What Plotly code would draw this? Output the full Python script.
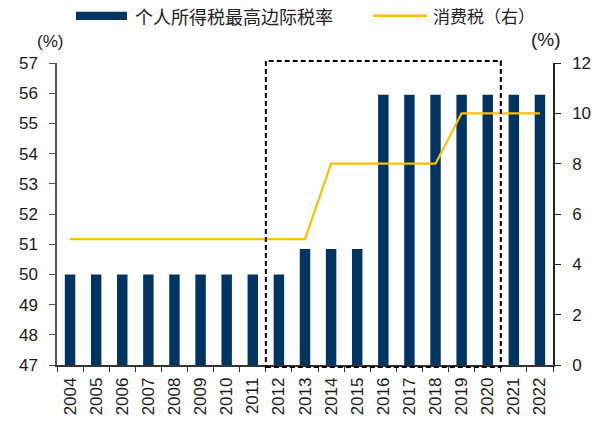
import plotly.graph_objects as go

years = [str(y) for y in range(2004, 2023)]
income_tax = [50, 50, 50, 50, 50, 50, 50, 50, 50, 50.84, 50.84, 50.84, 55.95, 55.95, 55.95, 55.95, 55.95, 55.95, 55.95]
consumption_tax = [5, 5, 5, 5, 5, 5, 5, 5, 5, 5, 8, 8, 8, 8, 8, 10, 10, 10, 10]
left_ticks = list(range(47, 58))
right_ticks = list(range(0, 13, 2))

BAR = "#003462"
LINE = "#FFC000"
FONT = "Liberation Sans, Arial, sans-serif"
CJK = "Noto Sans CJK SC, sans-serif"

W, H = 599, 423
PL, PR, PT, PB = 57, 553, 63, 365  # plot area in pixels


def px(X):
    return (X - PL) / (PR - PL)


def py(Y):
    return (PB - Y) / (PB - PT)


fig = go.Figure()
fig.add_trace(go.Bar(x=years, y=income_tax, name="个人所得税最高边际税率",
                     marker=dict(color=BAR, line=dict(width=0)), width=0.4,
                     showlegend=False))
fig.add_trace(go.Scatter(x=years, y=consumption_tax, name="消费税（右）", yaxis="y2",
                         mode="lines", line=dict(color=LINE, width=2.2), showlegend=False))

fig.update_layout(
    width=W, height=H,
    margin=dict(l=PL, r=W - PR, t=PT, b=H - PB, autoexpand=False),
    plot_bgcolor="white", paper_bgcolor="white",
    font=dict(family=FONT, size=17, color="#1a1a1a"),
    xaxis=dict(type="category", tickangle=-90, tickson="boundaries",
               ticks="outside", ticklen=5, tickcolor="#333", showline=True,
               linecolor="#333", linewidth=1.5, showgrid=False,
               ticklabelstandoff=4, tickfont=dict(size=17), range=[-0.5, 18.5]),
    yaxis=dict(range=[47, 57], tickvals=left_ticks, ticks="outside", ticklen=6,
               tickcolor="#555", showline=True, linecolor="#555", linewidth=1.5,
               showgrid=False, zeroline=False, ticklabelstandoff=8, tickfont=dict(size=17)),
    yaxis2=dict(range=[0, 12], tickvals=right_ticks, overlaying="y", side="right",
                ticks="outside", ticklen=6, tickcolor="#222", showline=True,
                linecolor="#222", linewidth=1.5, showgrid=False, zeroline=False,
                ticklabelstandoff=8, tickfont=dict(size=17)),
)

# dashed highlight box (2012-2020)
fig.add_shape(type="rect", xref="x", yref="paper", x0=7.5, x1=16.5, y0=py(367), y1=py(61),
              line=dict(color="black", width=2, dash="5px,3px"), layer="above")

# axis unit labels
fig.add_annotation(text="(%)", xref="paper", yref="paper", x=px(50), y=py(42),
                   showarrow=False, font=dict(size=17), xanchor="center", yanchor="middle")
fig.add_annotation(text="(%)", xref="paper", yref="paper", x=px(546), y=py(40),
                   showarrow=False, font=dict(size=19), xanchor="center", yanchor="middle")

# custom legend
fig.add_shape(type="rect", xref="paper", yref="paper",
              x0=px(76), x1=px(127), y0=py(20), y1=py(11.7),
              fillcolor=BAR, line=dict(width=0))
fig.add_annotation(text="个人所得税最高边际税率", xref="paper", yref="paper",
                   x=px(133), y=py(16), xanchor="left", yanchor="middle",
                   showarrow=False, font=dict(family=CJK, size=18, color="#222"))
fig.add_shape(type="line", xref="paper", yref="paper",
              x0=px(373), x1=px(427), y0=py(15.7), y1=py(15.7),
              line=dict(color=LINE, width=2.5))
fig.add_annotation(text="消费税（右）", xref="paper", yref="paper",
                   x=px(431), y=py(16), xanchor="left", yanchor="middle",
                   showarrow=False, font=dict(family=CJK, size=17, color="#222"))

fig.write_html("out.html", config={"displayModeBar": False},
               post_script="document.body.style.margin='0px';document.body.style.overflow='hidden';")
